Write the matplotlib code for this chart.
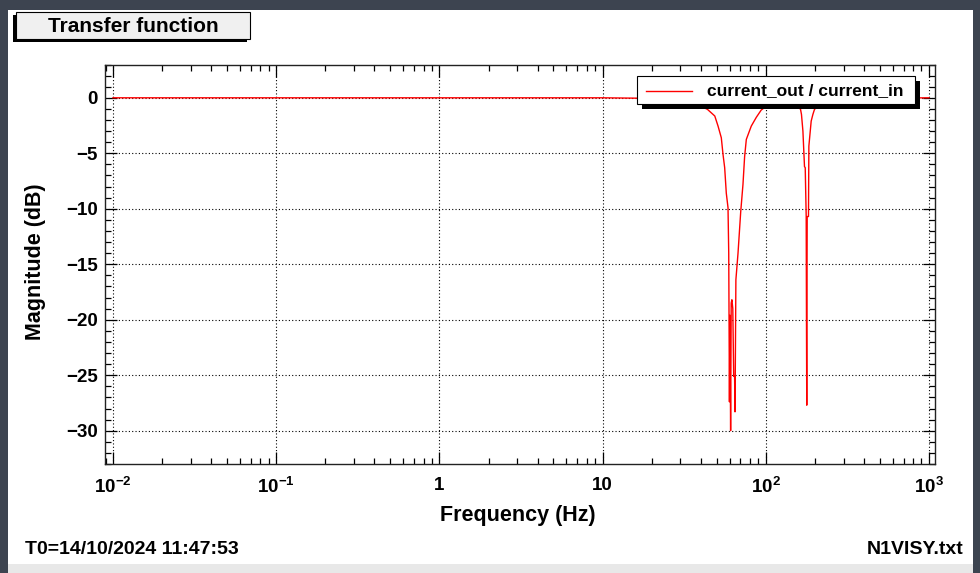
import math
import matplotlib
matplotlib.use("Agg")
import matplotlib.pyplot as plt
from matplotlib.patches import Rectangle
from matplotlib.lines import Line2D
from matplotlib.ticker import LogLocator, MultipleLocator, FuncFormatter, NullFormatter

plt.rcParams['font.family'] = ['Liberation Sans', 'DejaVu Sans']
plt.rcParams['font.weight'] = 'bold'
plt.rcParams['mathtext.fontset'] = 'custom'
plt.rcParams['mathtext.rm'] = 'Liberation Sans:bold'
plt.rcParams['mathtext.bf'] = 'Liberation Sans:bold'

# measured transfer function current_out / current_in
freq_hz = [0.01, 0.1, 1, 10, 20, 30, 38,
           43.9, 48.7, 51.0, 53.4, 54.7, 56.0, 57.3, 58.7,
           59.3, 59.9, 60.3, 60.9, 61.4, 62.0, 62.8, 63.6, 64.4, 64.8, 65.6,
           67.6, 70.2, 72.5, 74.2, 76.0, 81.5, 87.5, 93.8,
           100, 110, 130, 150, 160,
           163.3, 165.5, 168.9, 172.7, 174.5, 176.9, 177.6, 178.3, 178.6, 179.4,
           182.7, 183.7, 189.8, 194.4, 198.9,
           215, 260, 400, 600, 1000]
mag_db = [0.0, 0.0, 0.0, 0.0, -0.05, -0.2, -0.6,
          -1.04, -1.64, -2.55, -3.6, -5.1, -6.3, -8.6, -9.9,
          -14.0, -27.4, -19.6, -30.0, -18.5, -18.2, -19.0, -25.1, -25.1, -28.3, -16.4,
          -14.0, -10.3, -7.8, -5.3, -3.75, -2.55, -1.76, -1.1,
          -0.8, -0.5, -0.35, -0.6, -0.9,
          -1.04, -1.5, -3.0, -6.2, -6.3, -10.7, -20.0, -27.7, -20.0, -10.7,
          -10.7, -4.35, -2.1, -1.5, -1.04,
          -0.6, -0.25, -0.08, -0.03, 0.0]

series_label = 'current_out / current_in'
title_text = 'Transfer function'
start_text = 'T0=14/10/2024 11:47:53'
file_text = 'N1VISY.txt'

W, H = 980, 573
fig = plt.figure(figsize=(W / 100, H / 100), dpi=100)
fig.patch.set_facecolor('#3d4450')


def fx(x):
    return x / W


def fy(y):
    return 1 - y / H


def box(x0, y0, x1, y1, **kw):
    r = Rectangle((fx(x0), fy(y1)), fx(x1) - fx(x0), fy(y0) - fy(y1),
                  transform=fig.transFigure, **kw)
    fig.add_artist(r)
    return r


# canvas panel and status strip
box(8, 10, 973, 564, facecolor='white', edgecolor='none', zorder=-10)
box(8, 564, 973, 573, facecolor='#e8e8e8', edgecolor='none', zorder=-10)

ax = fig.add_axes([fx(105), fy(464), fx(935) - fx(105), fy(64.5) - fy(464)])
ax.set_facecolor('white')
ax.plot(freq_hz, mag_db, color='#ff0000', lw=1.0, zorder=3)

ax.set_xscale('log')
ax.set_xlim(10 ** -2.049, 10 ** 3.037)
ax.set_ylim(-33, 3)


def dec_label(v, pos):
    e = int(round(math.log10(v)))
    if e == 0:
        return '1'
    if e == 1:
        return '10'
    return r'$\mathregular{10^{%d}}$' % e


ax.xaxis.set_major_locator(LogLocator(base=10, numticks=20))
ax.xaxis.set_minor_locator(LogLocator(base=10, subs=range(2, 10), numticks=20))
ax.xaxis.set_major_formatter(FuncFormatter(dec_label))
ax.xaxis.set_minor_formatter(NullFormatter())
ax.yaxis.set_major_locator(MultipleLocator(5))
ax.yaxis.set_minor_locator(MultipleLocator(1))

ax.tick_params(which='both', direction='in', top=True, right=True, color='black', width=0.9)
ax.tick_params(axis='x', which='major', length=8.6, labelsize=13.5, pad=9)
ax.tick_params(axis='x', which='minor', length=4.6)
ax.tick_params(axis='y', which='major', length=8.6, labelsize=13.5, pad=5)
ax.tick_params(axis='y', which='minor', length=4.3)
for s in ax.spines.values():
    s.set_linewidth(1.0)
    s.set_color('#222222')

ax.grid(which='major', color='black', linestyle=(0, (1, 2)), linewidth=0.8)

fig.text(fx(518), fy(515), 'Frequency (Hz)', fontsize=15.5, ha='center', va='center')
fig.text(fx(36), fy(262), 'Magnitude (dB)', fontsize=15.5, ha='center', va='center',
         rotation=90)

# footer
fig.text(fx(25), fy(550), start_text, fontsize=14, ha='left', va='center')
fig.text(fx(963), fy(550), file_text, fontsize=14, ha='right', va='center')

# title pave with shadow
box(13, 15, 247, 42, facecolor='black', edgecolor='none', zorder=5)
box(16, 12, 250, 39, facecolor='#f0f0f0', edgecolor='black', lw=0.8, zorder=6)
fig.text(fx(133), fy(26), title_text, fontsize=15, ha='center', va='center', zorder=7)

# legend with shadow
box(642, 81, 920, 109, facecolor='black', edgecolor='none', zorder=5)
box(637, 76, 915, 104, facecolor='white', edgecolor='black', lw=0.8, zorder=6)
fig.add_artist(Line2D([fx(646), fx(692)], [fy(91), fy(91)], color='#ff0000', lw=1.0,
                      transform=fig.transFigure, zorder=7))
fig.text(fx(707), fy(91), series_label, fontsize=12.5, ha='left', va='center', zorder=7)

fig.savefig('out.png', dpi=100, facecolor=fig.get_facecolor())
